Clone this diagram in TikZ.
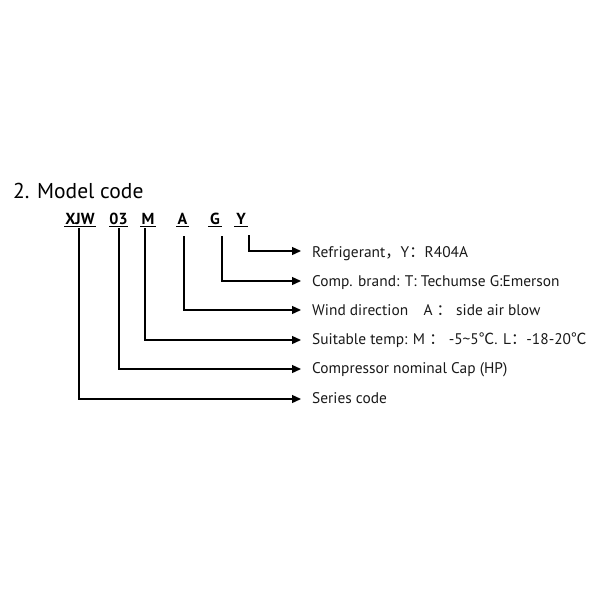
\documentclass[tikz,border=0pt]{standalone}
\usepackage{fontspec}
\setmainfont{PT Sans}
\newfontfamily\cjk{Noto Sans CJK SC}
\usetikzlibrary{arrows.meta}
\begin{document}
\begin{tikzpicture}[x=1pt,y=-1pt,
  code/.style={font=\fontsize{16}{16}\selectfont\bfseries, inner sep=0pt, anchor=base},
  desc/.style={font=\fontsize{15.4}{16}\selectfont, inner sep=0pt, anchor=base west, text=black!90},
  conn/.style={line width=1.3pt, -{Triangle[length=9pt,width=8pt]}},
  ul/.style={line width=0.9pt}]
\useasboundingbox (0,0) rectangle (600,600);
\node[font=\fontsize{21.5}{22}\selectfont, inner sep=0pt, anchor=base west] (title) at (13,198) {2. Model code};
% code letters
\node[code] (c1) at (80,224) {XJW};
\node[code] (c2) at (118.5,224) {03};
\node[code] (c3) at (148,224) {M};
\node[code] (c4) at (182.5,224) {A};
\node[code] (c5) at (215,224) {G};
\node[code] (c6) at (241,224) {Y};
\foreach \n/\a/\b in {c1/64/96, c2/109/128, c3/140/156, c4/176/189, c5/208/222, c6/234/248}
  \draw[ul] (\a,226.5) -- (\b,226.5);
% descriptions
\node[desc] (d6) at (312,257) {Refrigerant{\cjk ，}Y{\cjk ：}R404A};
\node[desc] (d5) at (312,286) {Comp. brand: T: Techumse G:Emerson};
\node[desc] (d4) at (312,315) {Wind direction\quad A {\cjk ：} side air blow};
\node[desc] (d3) at (312,344) {Suitable temp: M {\cjk ：} -5\textasciitilde5{\cjk ℃}. L{\cjk ：}-18-20{\cjk ℃}};
\node[desc] (d2) at (312,373) {Compressor nominal Cap (HP)};
\node[desc] (d1) at (312,403) {Series code};
% arrow end coordinates
\foreach \i/\y in {6/251,5/281,4/310,3/340,2/369,1/399}
  \coordinate (e\i) at (301,\y);
% connectors
\draw[conn] (249,235) |- (e6);
\draw[conn] (222,236) |- (e5);
\draw[conn] (184,236) |- (e4);
\draw[conn] (145,228) |- (e3);
\draw[conn] (119,228) |- (e2);
\draw[conn] (79,228) |- (e1);
\end{tikzpicture}
\end{document}
